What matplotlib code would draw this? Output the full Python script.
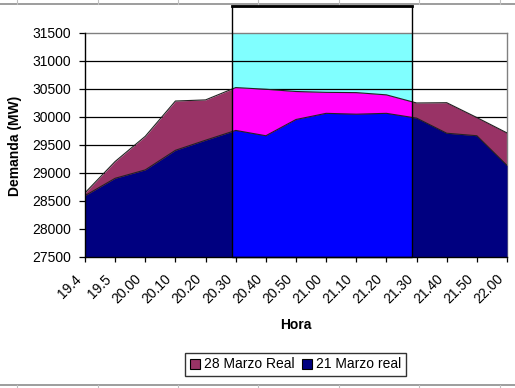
import matplotlib
matplotlib.use("Agg")
import matplotlib.pyplot as plt
from matplotlib.patches import Rectangle
from matplotlib.lines import Line2D
import matplotlib.transforms as mtransforms
import numpy as np

plt.rcParams['font.family'] = ['Liberation Sans', 'DejaVu Sans']

# data
horas = ['19.4', '19.5', '20.00', '20.10', '20.20', '20.30', '20.40', '20.50',
         '21.00', '21.10', '21.20', '21.30', '21.40', '21.50', '22.00']
marzo28 = [28640, 29200, 29650, 30280, 30300, 30520, 30490, 30450,
           30435, 30430, 30390, 30245, 30250, 29985, 29710]
marzo21 = [28590, 28900, 29050, 29400, 29580, 29755, 29660, 29950,
           30060, 30045, 30060, 29975, 29705, 29660, 29130]
y_ticks = list(range(27500, 32000, 500))
box_from, box_to = 4.867, 10.858   # highlighted period (category units)

W, H = 515, 388
fig = plt.figure(figsize=(W / 100, H / 100), dpi=100)
fig.patch.set_facecolor('white')

def fx(px):
    return px / W

def fy(py):
    return 1 - py / H

ax = fig.add_axes([fx(85), fy(256.7), fx(507) - fx(85), fy(32.7) - fy(256.7)])
x = np.arange(len(horas))
ymin, ymax = 27500, 31500

# normal areas
ax.fill_between(x, ymin, marzo28, color='#993366', lw=0, zorder=2)
ax.fill_between(x, ymin, marzo21, color='#000080', lw=0, zorder=3)

# highlighted window
clip = Rectangle((box_from, ymin), box_to - box_from, ymax - ymin, transform=ax.transData)
hi_bg = ax.fill_between(x, marzo28, ymax, color='#80FFFF', lw=0, zorder=0.5)
hi_top = ax.fill_between(x, ymin, marzo28, color='#FF00FF', lw=0, zorder=2.5)
hi_bot = ax.fill_between(x, ymin, marzo21, color='#0000FF', lw=0, zorder=3.5)
for art in (hi_bg, hi_top, hi_bot):
    art.set_clip_path(clip)

ax.plot(x, marzo28, color='#222222', lw=0.8, zorder=4)
ax.plot(x, marzo21, color='#222222', lw=0.8, zorder=4)

# gridlines behind the series
for v in y_ticks[1:-1]:
    ax.axhline(v, color='black', lw=0.9, zorder=1)

ax.set_xlim(0, len(horas) - 1)
ax.set_ylim(ymin, ymax)
ax.set_yticks(y_ticks)
ax.set_xticks(x)
ax.set_xticklabels(horas, rotation=45, ha='right', va='center', rotation_mode='anchor')
ax.tick_params(axis='y', length=4, width=0.9, pad=6, labelsize=10)
ax.tick_params(axis='x', length=3.5, width=0.9, pad=11, labelsize=10)
shift = mtransforms.ScaledTranslation(-6 / 100, 0, fig.dpi_scale_trans)
for lab in ax.get_xticklabels():
    lab.set_transform(lab.get_transform() + shift)

for s in ['left', 'bottom']:
    ax.spines[s].set_color('black')
    ax.spines[s].set_linewidth(1)
    ax.spines[s].set_zorder(6)
for s in ['top', 'right']:
    ax.spines[s].set_color('#808080')
    ax.spines[s].set_linewidth(1)

ax.set_xlabel('Hora', fontsize=10, fontweight='bold', labelpad=8)
fig.text(fx(15), fy(146), 'Demanda (MW)', rotation=90, fontsize=10,
         fontweight='bold', ha='center', va='center')

# box drawn around the highlighted window
tr = mtransforms.blended_transform_factory(ax.transData, fig.transFigure)
box = Rectangle((box_from, fy(256.7)), box_to - box_from, fy(5.7) - fy(256.7),
                transform=tr, fill=False, edgecolor='black', lw=1, zorder=7)
box.set_clip_on(False)
fig.add_artist(box)
fig.add_artist(Line2D([box_from, box_to], [fy(5.5), fy(5.5)], transform=tr,
                      color='black', lw=2))

# spreadsheet cell borders around the chart
for yy in (4, 385):
    fig.add_artist(Line2D([0, 1], [fy(yy), fy(yy)], color='#8c8c8c', lw=1.2))
for cx in (17, 98, 178, 258, 339, 419, 500):
    fig.add_artist(Line2D([fx(cx), fx(cx)], [fy(0), fy(4)], color='#c0c0c0', lw=0.8))
    fig.add_artist(Line2D([fx(cx), fx(cx)], [fy(385), fy(388)], color='#c0c0c0', lw=0.8))

# legend
handles = [Rectangle((0, 0), 1, 1, facecolor='#993366', edgecolor='black', lw=0.8),
           Rectangle((0, 0), 1, 1, facecolor='#000080', edgecolor='black', lw=0.8)]
leg = fig.legend(handles, ['28 Marzo Real', '21 Marzo real'], ncol=2,
                 loc='center', bbox_to_anchor=(fx(295.5), fy(364.5)),
                 fontsize=10, frameon=True, fancybox=False,
                 handlelength=0.75, handleheight=0.75, handletextpad=0.3,
                 columnspacing=0.5, borderpad=0.35, borderaxespad=0)
leg.get_frame().set_edgecolor('black')
leg.get_frame().set_linewidth(1)

fig.savefig('out.png', dpi=100)
